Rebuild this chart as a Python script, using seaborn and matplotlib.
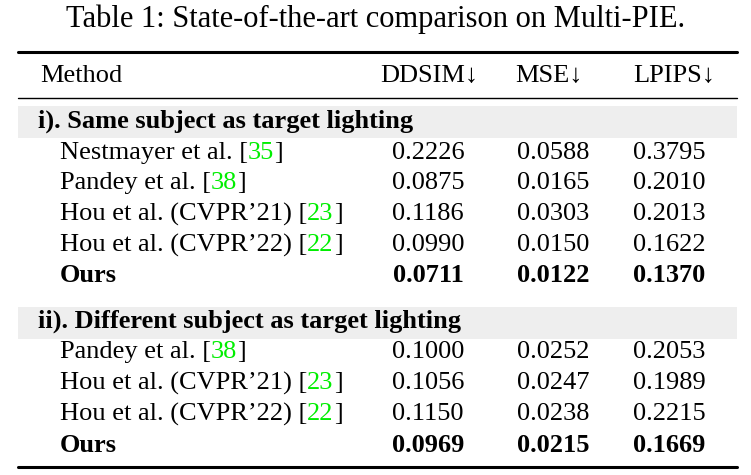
import matplotlib
matplotlib.use('Agg')
import matplotlib.pyplot as plt
import seaborn as sns

# dados da tabela
cabecalho = ['Method', 'DDSIM↓', 'MSE↓', 'LPIPS↓']
secoes = ['i). Same subject as target lighting', 'ii). Different subject as target lighting']

metodos_1 = ['Nestmayer et al.', 'Pandey et al.', 'Hou et al. (CVPR\u201921)', 'Hou et al. (CVPR\u201922)', 'Ours']
refs_1 = ['35', '38', '23', '22', '']
ddsim_1 = ['0.2226', '0.0875', '0.1186', '0.0990', '0.0711']
mse_1 = ['0.0588', '0.0165', '0.0303', '0.0150', '0.0122']
lpips_1 = ['0.3795', '0.2010', '0.2013', '0.1622', '0.1370']

metodos_2 = ['Pandey et al.', 'Hou et al. (CVPR\u201921)', 'Hou et al. (CVPR\u201922)', 'Ours']
refs_2 = ['38', '23', '22', '']
ddsim_2 = ['0.1000', '0.1056', '0.1150', '0.0969']
mse_2 = ['0.0252', '0.0247', '0.0238', '0.0215']
lpips_2 = ['0.2053', '0.1989', '0.2215', '0.1669']

sns.set_theme(style='white')
plt.rcParams['font.family'] = ['Liberation Serif', 'DejaVu Serif']
plt.rcParams['text.color'] = 'black'

fig = plt.figure(figsize=(7.51, 4.75), dpi=100)
ax = fig.add_axes([0, 0, 1, 1])
ax.set_xlim(0, 751)
ax.set_ylim(475, 0)
ax.axis('off')

fs = 19
verde = '#00ee00'
x_esq, x_dir = 18, 737
col_x = [428, 553, 669]
head_x = [429, 549, 674]

fig.canvas.draw()
renderer = fig.canvas.get_renderer()

def largura(t):
    # largura do texto em pixels (= unidades do eixo)
    bb = t.get_window_extent(renderer=renderer)
    return bb.width

# titulo
ax.text(376, 19, 'Table 1: State-of-the-art comparison on Multi-PIE.', ha='center', va='center',
        fontsize=22)

# linhas (booktabs)
ax.plot([x_esq, x_dir], [52, 52], color='black', lw=2.2)
ax.plot([x_esq, x_dir], [98, 98], color='black', lw=1.0)
ax.plot([x_esq, x_dir], [467, 467], color='black', lw=2.2)

# cabecalho
ax.text(40, 76, cabecalho[0], ha='left', va='center', fontsize=fs)
for i in range(3):
    ax.text(head_x[i], 76, cabecalho[i + 1], ha='center', va='center', fontsize=fs)

def linha_metodo(y, nome, ref, vals, negrito):
    peso = 'bold' if negrito else 'normal'
    if ref:
        t = ax.text(60, y, nome + ' [', ha='left', va='center', fontsize=fs)
        x = 60 + largura(t)
        t2 = ax.text(x, y, ref, ha='left', va='center', fontsize=fs, color=verde)
        x += largura(t2)
        ax.text(x, y, ']', ha='left', va='center', fontsize=fs)
    else:
        ax.text(60, y, nome, ha='left', va='center', fontsize=fs, fontweight=peso)
    for i, v in enumerate(vals):
        ax.text(col_x[i], y, v, ha='center', va='center', fontsize=fs, fontweight=peso)

# secao i
ax.axhspan(106, 138, xmin=x_esq / 751, xmax=x_dir / 751, color='#eeeeee', lw=0)
ax.text(38, 121, secoes[0], ha='left', va='center', fontsize=fs, fontweight='bold')
ys1 = [153, 183, 214, 245, 276]
for k in range(len(metodos_1)):
    linha_metodo(ys1[k], metodos_1[k], refs_1[k], [ddsim_1[k], mse_1[k], lpips_1[k]],
                 metodos_1[k] == 'Ours')

# secao ii
ax.axhspan(307, 339, xmin=x_esq / 751, xmax=x_dir / 751, color='#eeeeee', lw=0)
ax.text(38, 321, secoes[1], ha='left', va='center', fontsize=fs, fontweight='bold')
ys2 = [352, 383, 414, 445]
for k in range(len(metodos_2)):
    linha_metodo(ys2[k], metodos_2[k], refs_2[k], [ddsim_2[k], mse_2[k], lpips_2[k]],
                 metodos_2[k] == 'Ours')

fig.savefig('out.png', dpi=100)
